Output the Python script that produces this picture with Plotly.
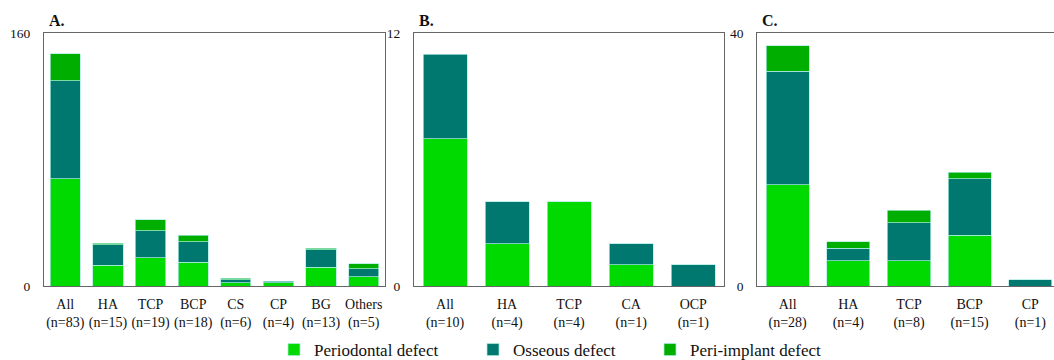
import plotly.graph_objects as go

# ---- data ----
cats_a = ["All", "HA", "TCP", "BCP", "CS", "CP", "BG", "Others"]
n_a = [83, 15, 19, 18, 6, 4, 13, 5]
perio_a = [68, 13, 18, 15, 2, 2, 12, 6]
osse_a = [62, 13, 17, 13, 2, 1, 11, 5]
peri_a = [17, 1, 7, 4, 1, 0, 1, 3]

cats_b = ["All", "HA", "TCP", "CA", "OCP"]
n_b = [10, 4, 4, 1, 1]
perio_b = [7, 2, 4, 1, 0]
osse_b = [4, 2, 0, 1, 1]
peri_b = [0, 0, 0, 0, 0]

cats_c = ["All", "HA", "TCP", "BCP", "CP"]
n_c = [28, 4, 8, 15, 1]
perio_c = [16, 4, 4, 8, 0]
osse_c = [18, 2, 6, 9, 1]
peri_c = [4, 1, 2, 1, 0]

ymax = [160, 12, 40]
panel_titles = ["A.", "B.", "C."]
series_names = ["Periodontal defect", "Osseous defect", "Peri-implant defect"]
colors = ["#00DA00", "#00786F", "#00AE00"]

FONT = "Liberation Serif, Times New Roman, DejaVu Serif, serif"
W, H = 1054, 360

fig = go.Figure()

panels = [
    (cats_a, n_a, [perio_a, osse_a, peri_a]),
    (cats_b, n_b, [perio_b, osse_b, peri_b]),
    (cats_c, n_c, [perio_c, osse_c, peri_c]),
]

xdomains = [[44 / W, 385 / W], [414 / W, 724.3 / W], [757.3 / W, 1.0]]
ydomain = [1 - 286 / H, 1 - 33.3 / H]
legend_ids = ["legend", "legend2", "legend3"]

for p, (cats, ns, series) in enumerate(panels):
    xa = "x" if p == 0 else f"x{p+1}"
    ya = "y" if p == 0 else f"y{p+1}"
    labels = [f"{c}<br>(n={n})" for c, n in zip(cats, ns)]
    for s, vals in enumerate(series):
        if all(v == 0 for v in vals) and p != 0:
            continue
        fig.add_trace(go.Bar(
            x=labels,
            y=[v if v != 0 else None for v in vals],
            name=series_names[s],
            marker=dict(color=colors[s], line=dict(color="rgba(170,235,225,0.9)", width=0.8)),
            xaxis=xa, yaxis=ya,
            showlegend=(p == 0),
            legend=legend_ids[s],
            legendgroup=series_names[s],
            hoverinfo="x+y+name",
        ))

axis_line = dict(showline=True, linecolor="#666666", linewidth=1.3, showgrid=False, zeroline=False)

for p in range(3):
    sfx = "" if p == 0 else str(p + 1)
    ncat = len(panels[p][0])
    xr = [-0.5, ncat - 0.5] if p < 2 else [-0.5, 4.39]
    fig.update_layout(**{
        f"xaxis{sfx}": dict(
            domain=xdomains[p], anchor=f"y{sfx}", range=xr, mirror=True,
            tickfont=dict(family=FONT, size=14, color="#111"),
            ticks="", ticklabelstandoff=5, fixedrange=True, automargin=False, **axis_line,
        ),
        f"yaxis{sfx}": dict(
            domain=ydomain, anchor=f"x{sfx}", range=[0, ymax[p]],
            tickvals=[0, ymax[p]], mirror=(p < 2),
            tickfont=dict(family=FONT, size=13.5, color="#111"),
            ticks="", ticklabelstandoff=10, fixedrange=True, automargin=False, **axis_line,
        ),
    })
    fig.add_annotation(
        text=f"<b>{panel_titles[p]}</b>", xref=f"x{sfx} domain", yref=f"y{sfx} domain",
        x=0, y=1, xanchor="left", yanchor="bottom", xshift=3, yshift=2,
        showarrow=False, font=dict(family=FONT, size=16, color="#111"),
    )

leg_x = [274, 473, 650]
leg_common = dict(orientation="h", yanchor="middle", y=1 - 350 / H, xanchor="left",
                  font=dict(family=FONT, size=17, color="#111"), bgcolor="rgba(0,0,0,0)",
                  borderwidth=0)
fig.update_layout(
    legend=dict(x=leg_x[0] / W, **leg_common),
    legend2=dict(x=leg_x[1] / W, **leg_common),
    legend3=dict(x=leg_x[2] / W, **leg_common),
)

fig.update_layout(
    width=W, height=H,
    margin=dict(l=0, r=0, t=0, b=0, autoexpand=False),
    barmode="stack", bargap=0.29,
    plot_bgcolor="white", paper_bgcolor="white",
    font=dict(family=FONT, color="#111"),
)

fig.write_html("out.html", config={"displayModeBar": False},
               post_script="document.body.style.margin='0';")
